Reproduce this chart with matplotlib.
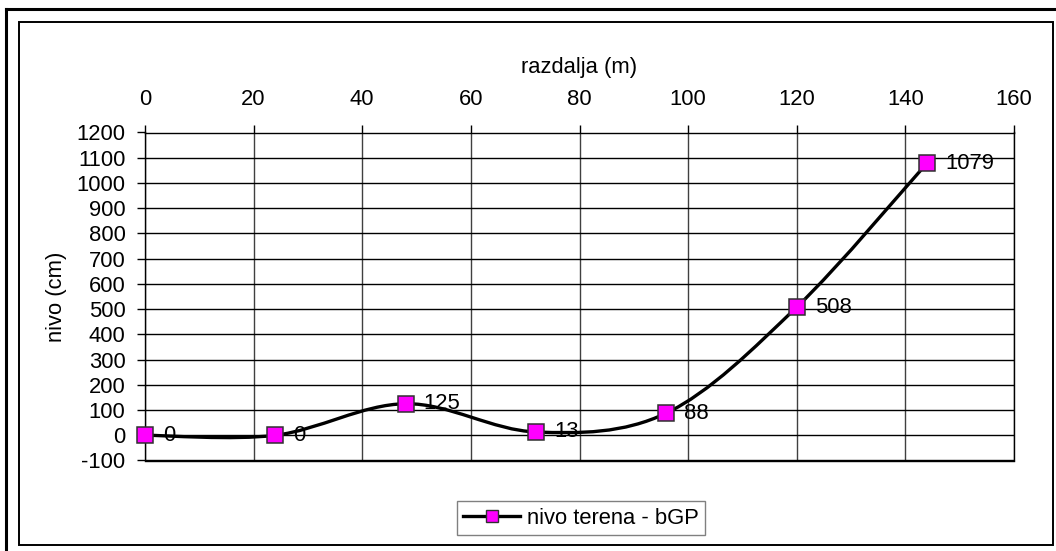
import matplotlib
matplotlib.use("Agg")
import matplotlib.pyplot as plt
import numpy as np
from matplotlib.path import Path
from matplotlib.patches import PathPatch, Rectangle
from matplotlib.lines import Line2D

# Terrain profile: distance (m) vs. level (cm)
distance_m = [0, 24, 48, 72, 96, 120, 144]
level_cm = [0, 0, 125, 13, 88, 508, 1079]
series_name = "nivo terena - bGP"
x_title = "razdalja (m)"
y_title = "nivo (cm)"
x_ticks = [0, 20, 40, 60, 80, 100, 120, 140, 160]
y_ticks = [-100, 0, 100, 200, 300, 400, 500, 600, 700, 800, 900, 1000, 1100, 1200]

plt.rcParams["font.family"] = ["Liberation Sans", "DejaVu Sans"]
plt.rcParams["axes.unicode_minus"] = False
FS = 15.8
W, H = 1056, 551

fig = plt.figure(figsize=(W / 100, H / 100), dpi=100)
fig.patch.set_facecolor("white")

# outer frames
fig.add_artist(Line2D([6 / W, 1.0], [1 - 9 / H, 1 - 9 / H], color="black", lw=2.2,
                      transform=fig.transFigure))
fig.add_artist(Line2D([6 / W, 6 / W], [0, 1 - 9 / H], color="black", lw=2.2,
                      transform=fig.transFigure))
fig.add_artist(Rectangle((19 / W, 1 - 545 / H), (1053 - 19) / W, (545 - 22) / H,
                         transform=fig.transFigure, fill=False, ec="black", lw=1.4))

left, right, top, bottom = 145, 1014, 132.5, 460.5
ax = fig.add_axes([left / W, 1 - bottom / H, (right - left) / W, (bottom - top) / H])
ax.set_xlim(0, 160)
ax.set_ylim(-100, 1200)

ax.xaxis.tick_top()
ax.xaxis.set_label_position("top")
ax.set_xticks(x_ticks)
ax.set_yticks(y_ticks)
ax.tick_params(axis="x", direction="out", length=6, width=1, pad=10, labelsize=FS, color="black")
ax.tick_params(axis="y", direction="out", length=6, width=1, pad=8, labelsize=FS, color="black")
ax.set_xlabel(x_title, fontsize=FS, labelpad=12)
ax.set_ylabel(y_title, fontsize=FS, labelpad=7)

ax.yaxis.grid(True, color="black", lw=1)
ax.xaxis.grid(True, color="#404040", lw=1)
ax.set_axisbelow(True)
for s in ax.spines.values():
    s.set_color("black")
    s.set_linewidth(1)

# smoothed curve (Catmull-Rom as cubic Bezier segments)
pts = np.column_stack([distance_m, level_cm]).astype(float)
verts = [pts[0]]
codes = [Path.MOVETO]
n = len(pts)
for i in range(n - 1):
    p0 = pts[max(i - 1, 0)]
    p1 = pts[i]
    p2 = pts[i + 1]
    p3 = pts[min(i + 2, n - 1)]
    c1 = p1 + (p2 - p0) / 6.0
    c2 = p2 - (p3 - p1) / 6.0
    verts += [c1, c2, p2]
    codes += [Path.CURVE4] * 3
ax.add_patch(PathPatch(Path(verts, codes), fill=False, ec="black", lw=2.4,
                       capstyle="round", joinstyle="round", zorder=3))

ax.plot(distance_m, level_cm, ls="none", marker="s", ms=12, mfc="#FF00FF",
        mec="#303030", mew=1.1, zorder=4, clip_on=False)

for xv, yv in zip(distance_m, level_cm):
    ax.annotate(str(yv), (xv, yv), xytext=(18, 0), textcoords="offset pixels",
                ha="left", va="center", fontsize=FS, zorder=5)

handle = Line2D([], [], color="black", lw=2.4, marker="s", ms=8, mfc="#FF00FF",
                mec="#303030", mew=1)
leg = fig.legend([handle], [series_name], loc="center",
                 bbox_to_anchor=(581 / W, 1 - 518 / H), fontsize=FS, frameon=True,
                 fancybox=False, edgecolor="#808080", framealpha=1,
                 handlelength=2.6, handletextpad=0.3, borderpad=0.3, borderaxespad=0)
leg.get_frame().set_linewidth(1)

fig.savefig("out.png", dpi=100, facecolor="white")
